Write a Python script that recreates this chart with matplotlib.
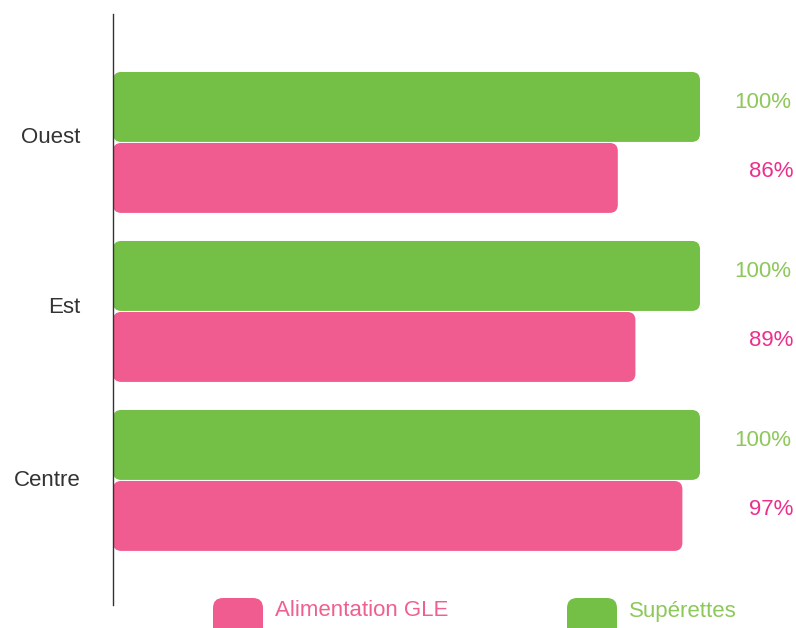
import matplotlib
matplotlib.use("Agg")
import matplotlib.pyplot as plt
from matplotlib.patches import FancyBboxPatch
import matplotlib.transforms as mtrans

categories = ["Ouest", "Est", "Centre"]
superettes = [100, 100, 100]
alimentation = [86, 89, 97]
series_names = ["Alimentation GLE", "Supérettes"]

GREEN = "#74C046"
PINK = "#F05C8F"
GREEN_TXT = "#8CC85A"
PINK_TXT = "#EC2F8C"
PINK_LEG = "#F0608F"

plt.rcParams['font.family'] = ['Liberation Sans', 'DejaVu Sans']

W, H = 796, 628
fig = plt.figure(figsize=(W / 100, H / 100), dpi=100)
ax_left, ax_right, ax_top, ax_bottom = 113, 796, 14, 605
ax = fig.add_axes([ax_left / W, 1 - ax_bottom / H, (ax_right - ax_left) / W, (ax_bottom - ax_top) / H])

xmax = (ax_right - ax_left) / 587 * 100
ax.set_xlim(0, xmax)
ax.set_ylim(2 + 0.737, -0.760)

px_per_x = 587 / 100
px_per_y = 169
bh = 0.414
off = 0.21
for i, (cat, g, p) in enumerate(zip(categories, superettes, alimentation)):
    for val, yc, col in [(g, i - off, GREEN), (p, i + off, PINK)]:
        patch = FancyBboxPatch((0, yc - bh / 2), val, bh,
                               boxstyle="round,pad=0,rounding_size=1.4",
                               mutation_aspect=px_per_x / px_per_y,
                               facecolor=col, edgecolor="none")
        ax.add_patch(patch)
    ax.text(115.5, i - off - 4 / px_per_y, f"{g}%", color=GREEN_TXT, fontsize=16,
            ha="right", va="center")
    ax.text(115.9, i + off - 6 / px_per_y, f"{p}%", color=PINK_TXT, fontsize=16,
            ha="right", va="center")

ax.set_yticks(range(len(categories)))
ax.set_yticklabels(categories, fontsize=16, color="#333333")
ax.tick_params(axis="y", length=0, pad=33)
ax.set_xticks([])
for s in ["top", "right", "bottom"]:
    ax.spines[s].set_visible(False)
ax.spines["left"].set_color("#333333")
ax.spines["left"].set_linewidth(1.0)

# tick label offsets (pixels): Ouest, Est, Centre
for lab, dy in zip(ax.get_yticklabels(), [7, 6, 2]):
    shift = mtrans.ScaledTranslation(13 / 100, dy / 100, fig.dpi_scale_trans)
    lab.set_transform(lab.get_transform() + shift)

def fx(x):
    return x / W

def fy(y):
    return 1 - y / H

for name, col, tcol, x0 in [(series_names[0], PINK, PINK_LEG, 213), (series_names[1], GREEN, GREEN_TXT, 567)]:
    sw = FancyBboxPatch((fx(x0), fy(640)), 50 / W, 42 / H,
                        boxstyle=f"round,pad=0,rounding_size={10 / W}",
                        mutation_aspect=W / H,
                        facecolor=col, edgecolor="none",
                        transform=fig.transFigure, clip_on=False)
    fig.patches.append(sw)
    fig.text(fx(x0 + 62), fy(611), name, color=tcol, fontsize=16, ha="left", va="center")

fig.savefig("out.png", dpi=100)
